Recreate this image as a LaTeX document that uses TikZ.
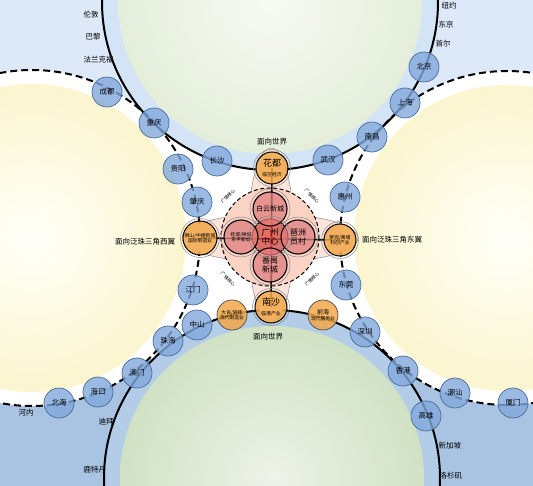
\documentclass[tikz,border=0pt]{standalone}
\usepackage{fontspec}
\setmainfont{Noto Sans CJK SC}
\definecolor{jiaolan}{HTML}{DDE9F8}
\definecolor{dilan}{HTML}{A8C4E2}
\definecolor{huanlan}{HTML}{D3E4F6}
\definecolor{huanlanb}{HTML}{B3CDE8}
\definecolor{lvse}{HTML}{E4EEDA}
\definecolor{lvxin}{HTML}{F8FAF4}
\definecolor{lvseb}{HTML}{D0E1C4}
\definecolor{lvxinb}{HTML}{EDF3E8}
\definecolor{huangse}{HTML}{FBF6CF}
\definecolor{huangxin}{HTML}{FFFFF8}
\definecolor{chenglan}{HTML}{82A9DD}
\definecolor{chengbian}{HTML}{4A6C94}
\definecolor{chengse}{HTML}{F2A84A}
\definecolor{fenhong}{HTML}{FBD3C5}
\definecolor{qianfen}{HTML}{FCE4DA}
\definecolor{hongse}{HTML}{E0807E}
\definecolor{zhuhong}{HTML}{E8473F}
\newcommand{\xiaozi}{\fontsize{4.8}{5.6}\selectfont}

\begin{document}
\begin{tikzpicture}[x=1pt, y=-1pt,
	city/.style={circle, draw=chengbian, fill=chenglan, fill opacity=0.8, text opacity=1, line width=0.7pt, minimum size=30pt, inner sep=0pt, font=\fontsize{7.5}{8}\selectfont},
	hub/.style={circle, draw=black, fill=chengse, fill opacity=0.85, text opacity=1, line width=1pt, minimum size=32pt, inner sep=0pt, align=center, font=\fontsize{9}{10}\selectfont},
	zone/.style={circle, draw=black, fill=hongse, fill opacity=0.75, text opacity=1, line width=1.1pt, minimum size=34pt, inner sep=0pt, align=center, font=\fontsize{8}{9}\selectfont},
	ring/.style={draw=black!45, line width=0.5pt},
	rail/.style={line width=2pt},
	dashrail/.style={line width=2pt, dash pattern=on 7pt off 4pt},
	link/.style={line width=1.6pt},
	mianxiang/.style={font=\fontsize{7.5}{8}\selectfont},
	world/.style={font=\fontsize{7.5}{8}\selectfont, anchor=west},
	core/.style={font=\fontsize{4.5}{5}\selectfont, inner sep=0.5pt}]
	% 画布范围
	\useasboundingbox (0,0) rectangle (533,486);
	\clip (0,0) rectangle (533,486);
	% 四个大圆的圆心
	\coordinate (shang) at (270,2);
	\coordinate (xia) at (272,478);
	\coordinate (zuo) at (32,238);
	\coordinate (you) at (507,238);
	\coordinate (hx) at (270,237);

	% 底色
	\fill[jiaolan] (0,0) rectangle (533,240);
	\fill[dilan] (0,240) rectangle (533,486);
	\fill[white] (151,121) rectangle (389,359);

	% 左右两翼(黄色)
	\fill[white] (zuo) circle[radius=168];
	\shade[inner color=huangxin, outer color=huangse] (zuo) circle[radius=154];
	\fill[white] (you) circle[radius=167];
	\shade[inner color=huangxin, outer color=huangse] (you) circle[radius=153];
	% 上下两圆(面向世界)
	\fill[huanlan] (shang) circle[radius=168];
	\shade[inner color=lvxin, outer color=lvse] (shang) circle[radius=152];
	\fill[huanlanb] (xia) circle[radius=168];
	\shade[inner color=lvxinb, outer color=lvseb] (xia) circle[radius=152];

	% 世界城市
	\node[world] (lundun) at (80,15) {伦敦};
	\node[world] (bali) at (82,37) {巴黎};
	\node[world] (falankefu) at (80,60) {法兰克福};
	\node[world] (niuyue) at (438,6) {纽约};
	\node[world] (dongjing) at (435,25) {东京};
	\node[world] (shouer) at (432,44) {首尔};
	\node[world] (henei) at (15,413) {河内};
	\node[world] (dibai) at (95,422) {迪拜};
	\node[world] (lutedan) at (80,470) {鹿特丹};
	\node[world] (xinjiapo) at (435,446) {新加坡};
	\node[world] (luoshanji) at (436,476) {洛杉矶};

	% 交通线
	\draw[rail] (shang) circle[radius=168];
	\draw[rail] (xia) circle[radius=168];
	\draw[dashrail] (zuo) circle[radius=168];
	\draw[dashrail] (you) circle[radius=167];

	% 广佛核心区
	\draw[ring, fill=qianfen] (270,238) ellipse[x radius=88, y radius=24];
	\draw[ring, fill=qianfen] (271,235) ellipse[x radius=23, y radius=87];
	\draw[fill=fenhong, line width=1pt, dash pattern=on 4pt off 2.5pt] (hx) circle[radius=49];

	% 各节点位置
	\coordinate (hd) at (272,168);
	\coordinate (ns) at (271,307);
	\coordinate (fs) at (200,238);
	\coordinate (lg) at (340,240);
	\coordinate (dl) at (232,315);
	\coordinate (qh) at (323,315);
	\coordinate (by) at (270,209);
	\coordinate (py) at (270,265);
	\coordinate (pz) at (298,237);
	\coordinate (gc) at (241,237);

	% 十字轴线
	\draw[link] (fs) -- (lg);
	\draw[link] (hd) -- (ns);

	% 国内城市
	\node[city] (chengdu) at (107,92) {成都};
	\node[city] (chongqing) at (154,123) {重庆};
	\node[city] (guiyang) at (178,169) {贵阳};
	\node[city] (changsha) at (217,161) {长沙};
	\node[city] (zhaoqing) at (197,202) {肇庆};
	\node[city] (jiangmen) at (193,290) {江门};
	\node[city] (zhongshan) at (197,325) {中山};
	\node[city] (zhuhai) at (168,341) {珠海};
	\node[city] (aomen) at (137,373) {澳门};
	\node[city] (haikou) at (98,392) {海口};
	\node[city] (beihai) at (59,403) {北海};
	\node[city] (wuhan) at (328,160) {武汉};
	\node[city] (huizhou) at (345,197) {惠州};
	\node[city] (nanchang) at (372,137) {南昌};
	\node[city] (shanghai) at (405,103) {上海};
	\node[city] (beijing) at (424,67) {北京};
	\node[city] (dongguan) at (346,285) {东莞};
	\node[city] (shenzhen) at (365,332) {深圳};
	\node[city] (xianggang) at (403,371) {香港};
	\node[city] (chaoshan) at (455,393) {潮汕};
	\node[city] (xiamen) at (513,403) {厦门};
	\node[city] (gaoxiong) at (426,416) {高雄};

	% 外围组团
	\node[hub] (huadu) at (hd) {花都\\{\xiaozi 临空经济}};
	\node[hub] (nansha) at (ns) {南沙\\{\xiaozi 临港产业}};
	\node[hub, font=\xiaozi, minimum size=34pt] (shishan) at (fs) {狮山/中德新城\\国际制造业};
	\node[hub, font=\xiaozi] (luogang) at (lg) {萝岗/黄埔\\科创产业};
	\node[hub, font=\xiaozi, minimum size=30pt, draw=black!70, line width=0.7pt] (daliang) at (dl) {大良/容桂\\现代制造业};
	\node[hub, font=\xiaozi, minimum size=30pt, draw=black!70, line width=0.7pt] (qianhai) at (qh) {{\fontsize{6}{7}\selectfont 前海}\\现代服务业};
	\draw[ring] (huadu.center) circle[radius=18.5];
	\draw[ring] (nansha.center) circle[radius=18.5];
	\draw[ring] (shishan.center) circle[radius=19.5];
	\draw[ring] (luogang.center) circle[radius=18.5];

	% 核心组团
	\node[zone, fill=zhuhong, minimum size=36pt, font=\fontsize{8.5}{9.5}\selectfont] (guangzhou) at (hx) {广州\\中心};
	\node[zone, font=\fontsize{7}{8}\selectfont] (baiyun) at (by) {白云新城};
	\node[zone] (panyu) at (py) {番禺\\新城};
	\node[zone] (pazhou) at (pz) {琶洲\\员村};
	\node[zone, font=\xiaozi] (guicheng) at (gc) {桂城/禅城\\东平新城};
	\foreach \n in {baiyun, panyu, pazhou, guicheng}
		\draw[ring] (\n.center) circle[radius=20];
	\draw[ring] (guangzhou.center) circle[radius=21];

	% 广佛核心标注
	\node[core, rotate=45] (hxa) at (228,196) {广佛核心};
	\node[core, rotate=-45] (hxb) at (312,196) {广佛核心};
	\node[core, rotate=-45] (hxc) at (228,279) {广佛核心};
	\node[core, rotate=45] (hxd) at (312,279) {广佛核心};

	% 方向标注
	\node[mianxiang] (shijiea) at (272,142) {面向世界};
	\node[mianxiang] (shijieb) at (268,337) {面向世界};
	\node[mianxiang] (xiyi) at (145,242) {面向泛珠三角西翼};
	\node[mianxiang] (dongyi) at (392,240) {面向泛珠三角东翼};
\end{tikzpicture}
\end{document}
